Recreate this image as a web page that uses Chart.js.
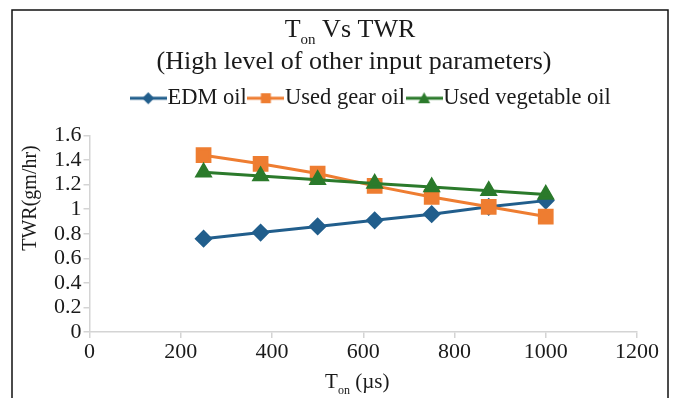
<!DOCTYPE html>
<html>
<head>
<meta charset="utf-8">
<script src="https://cdn.jsdelivr.net/npm/chart.js@4.4.1/dist/chart.umd.min.js"></script>
<style>
  html, body { margin: 0; padding: 0; background: #fff; }
  #wrap { width: 674px; height: 398px; }
</style>
</head>
<body>
<div id="wrap"><canvas id="myChart" width="674" height="398"></canvas></div>
<script>
// values
const tOn = [250, 375, 500, 625, 750, 875, 1000];
const edmOil = [0.76, 0.81, 0.86, 0.91, 0.96, 1.02, 1.07];
const gearOil = [1.44, 1.37, 1.29, 1.19, 1.10, 1.02, 0.94];
const vegOil = [1.30, 1.27, 1.24, 1.21, 1.18, 1.15, 1.12];
const seriesNames = ["EDM oil", "Used gear oil", "Used vegetable oil"];
const xRange = [0, 1200, 200];
const yRange = [0, 1.6, 0.2];

const SERIF = "'Liberation Serif', 'Times New Roman', serif";
const BLUE = "#215e8c";
const ORANGE = "#ee7d31";
const GREEN = "#2b7a2b";
const AXIS = "#d4d4d4";
const TEXT = "#1a1a1a";

// line + marker sample for the legend
function legendSample(color, style) {
  const c = document.createElement("canvas");
  c.width = 37;
  c.height = 16;
  const g = c.getContext("2d");
  g.strokeStyle = color;
  g.fillStyle = color;
  g.lineWidth = 3;
  g.beginPath();
  g.moveTo(0, 8);
  g.lineTo(37, 8);
  g.stroke();
  g.beginPath();
  if (style === "rectRot") {
    g.moveTo(18.5, 2); g.lineTo(24.5, 8); g.lineTo(18.5, 14); g.lineTo(12.5, 8);
  } else if (style === "rect") {
    g.rect(13.5, 3, 10, 10);
  } else {
    g.moveTo(18.5, 2); g.lineTo(24.5, 13); g.lineTo(12.5, 13);
  }
  g.closePath();
  g.fill();
  return c;
}

function toXY(vals) {
  return vals.map((v, i) => ({ x: tOn[i], y: v }));
}

// text with a subscript part
function drawParts(ctx, parts, cx, y) {
  let total = 0;
  parts.forEach(p => {
    ctx.font = p.size + "px " + SERIF;
    p.w = ctx.measureText(p.t).width;
    total += p.w;
  });
  let x = cx - total / 2;
  ctx.textAlign = "left";
  ctx.textBaseline = "alphabetic";
  parts.forEach(p => {
    ctx.font = p.size + "px " + SERIF;
    ctx.fillText(p.t, x, y + (p.dy || 0));
    x += p.w;
  });
}

const framePlugin = {
  id: "frame",
  beforeInit(chart) {
    const legend = chart.legend;
    // a little more room under the legend
    const fit = legend.fit;
    legend.fit = function () {
      fit.bind(legend)();
      this.height += 16;
    };
    // legend sits a bit right of centre in the original
    const draw = legend.draw;
    legend.draw = function () {
      const c = chart.ctx;
      c.save();
      c.translate(31, 0);
      draw.bind(legend)();
      c.restore();
    };
  },
  beforeDraw(chart) {
    const ctx = chart.ctx;
    ctx.save();
    ctx.fillStyle = "#fff";
    ctx.fillRect(0, 0, chart.width, chart.height);
    ctx.strokeStyle = "#111";
    ctx.lineWidth = 1.5;
    ctx.strokeRect(12, 10, 656, 420);
    ctx.restore();
  },
  afterDraw(chart) {
    const ctx = chart.ctx;
    const area = chart.chartArea;
    ctx.save();
    ctx.fillStyle = TEXT;
    drawParts(ctx, [
      { t: "T", size: 26 },
      { t: "on", size: 15, dy: 7 },
      { t: " Vs TWR", size: 26 }
    ], 350, 37);
    drawParts(ctx, [{ t: "(High level of other input parameters)", size: 26 }], 354, 69);
    drawParts(ctx, [
      { t: "T", size: 21 },
      { t: "on", size: 12, dy: 6 },
      { t: " (\u00b5s)", size: 21 }
    ], (area.left + area.right) / 2 - 6, 388);
    ctx.translate(36, 198);
    ctx.rotate(-Math.PI / 2);
    drawParts(ctx, [{ t: "TWR(gm/hr)", size: 20 }], 0, 0);
    ctx.restore();
  }
};

const ctx = document.getElementById("myChart").getContext("2d");
const samples = [legendSample(BLUE, "rectRot"), legendSample(ORANGE, "rect"), legendSample(GREEN, "triangle")];

const myChart = new Chart(ctx, {
  type: "line",
  data: {
    datasets: [
      {
        label: seriesNames[0],
        data: toXY(edmOil),
        borderColor: BLUE,
        backgroundColor: BLUE,
        pointStyle: "rectRot",
        pointRadius: 7,
        borderWidth: 3,
        order: 2
      },
      {
        label: seriesNames[1],
        data: toXY(gearOil),
        borderColor: ORANGE,
        backgroundColor: ORANGE,
        pointStyle: "rect",
        pointRadius: 9,
        borderWidth: 3,
        order: 1
      },
      {
        label: seriesNames[2],
        data: toXY(vegOil),
        borderColor: GREEN,
        backgroundColor: GREEN,
        pointStyle: "triangle",
        pointRadius: 7.5,
        borderWidth: 3,
        order: 0
      }
    ]
  },
  options: {
    responsive: false,
    animation: false,
    layout: { padding: { top: 76, left: 52, right: 37, bottom: 31.5 } },
    plugins: {
      title: { display: false },
      tooltip: { enabled: false },
      legend: {
        position: "top",
        labels: {
          usePointStyle: true,
          pointStyleWidth: 16,
          padding: 11,
          color: TEXT,
          font: { family: SERIF, size: 22.5 },
          generateLabels(chart) {
            return chart.data.datasets.map((d, i) => ({
              text: d.label,
              datasetIndex: i,
              pointStyle: samples[i],
              fillStyle: d.borderColor,
              strokeStyle: d.borderColor,
              lineWidth: 0,
              fontColor: TEXT,
              hidden: false
            }));
          }
        }
      }
    },
    scales: {
      x: {
        type: "linear",
        min: xRange[0],
        max: xRange[1],
        ticks: { stepSize: xRange[2], autoSkip: false, color: TEXT, padding: 1, font: { family: SERIF, size: 22 },
          callback: v => String(v) },
        grid: { display: true, drawOnChartArea: false, drawTicks: true, tickLength: 6, color: AXIS, lineWidth: 1.5 },
        border: { color: AXIS, width: 1.5 }
      },
      y: {
        min: yRange[0],
        max: yRange[1],
        ticks: { stepSize: yRange[2], autoSkip: false, color: TEXT, padding: 2, font: { family: SERIF, size: 22 },
          callback: v => String(Math.round(v * 10) / 10) },
        grid: { display: true, drawOnChartArea: false, drawTicks: true, tickLength: 6, color: AXIS, lineWidth: 1.5 },
        border: { color: AXIS, width: 1.5 }
      }
    }
  },
  plugins: [framePlugin]
});
</script>
</body>
</html>
